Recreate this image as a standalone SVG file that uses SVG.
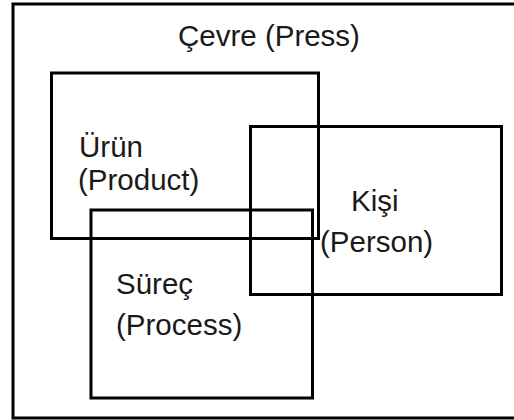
<svg xmlns="http://www.w3.org/2000/svg" width="514" height="420" viewBox="0 0 514 420">
  <style>
    .box { fill: none; stroke: #000; stroke-width: 3; }
    .lbl { font-family: "Liberation Sans", Arial, sans-serif; font-size: 29.5px; fill: #1a1a1a; }
  </style>
  <rect width="514" height="420" fill="#fff"/>
  <!-- Press: the enclosing environment -->
  <g id="press">
    <rect class="box" x="13" y="4" width="512" height="414"/>
    <text class="lbl" x="178" y="46">Çevre (Press)</text>
  </g>
  <!-- Product -->
  <g id="product">
    <rect class="box" x="51.5" y="73" width="267" height="165.5"/>
    <text class="lbl" x="79" y="157">Ürün</text>
    <text class="lbl" x="78" y="190">(Product)</text>
  </g>
  <!-- Person -->
  <g id="person">
    <rect class="box" x="250.5" y="126.5" width="251" height="168"/>
    <text class="lbl" x="351" y="211">Kişi</text>
    <text class="lbl" x="320" y="252">(Person)</text>
  </g>
  <!-- Process -->
  <g id="process">
    <rect class="box" x="91" y="210" width="221.5" height="188"/>
    <text class="lbl" x="116" y="294">Süreç</text>
    <text class="lbl" x="116" y="335">(Process)</text>
  </g>
  <g id="connectors"/>
</svg>
